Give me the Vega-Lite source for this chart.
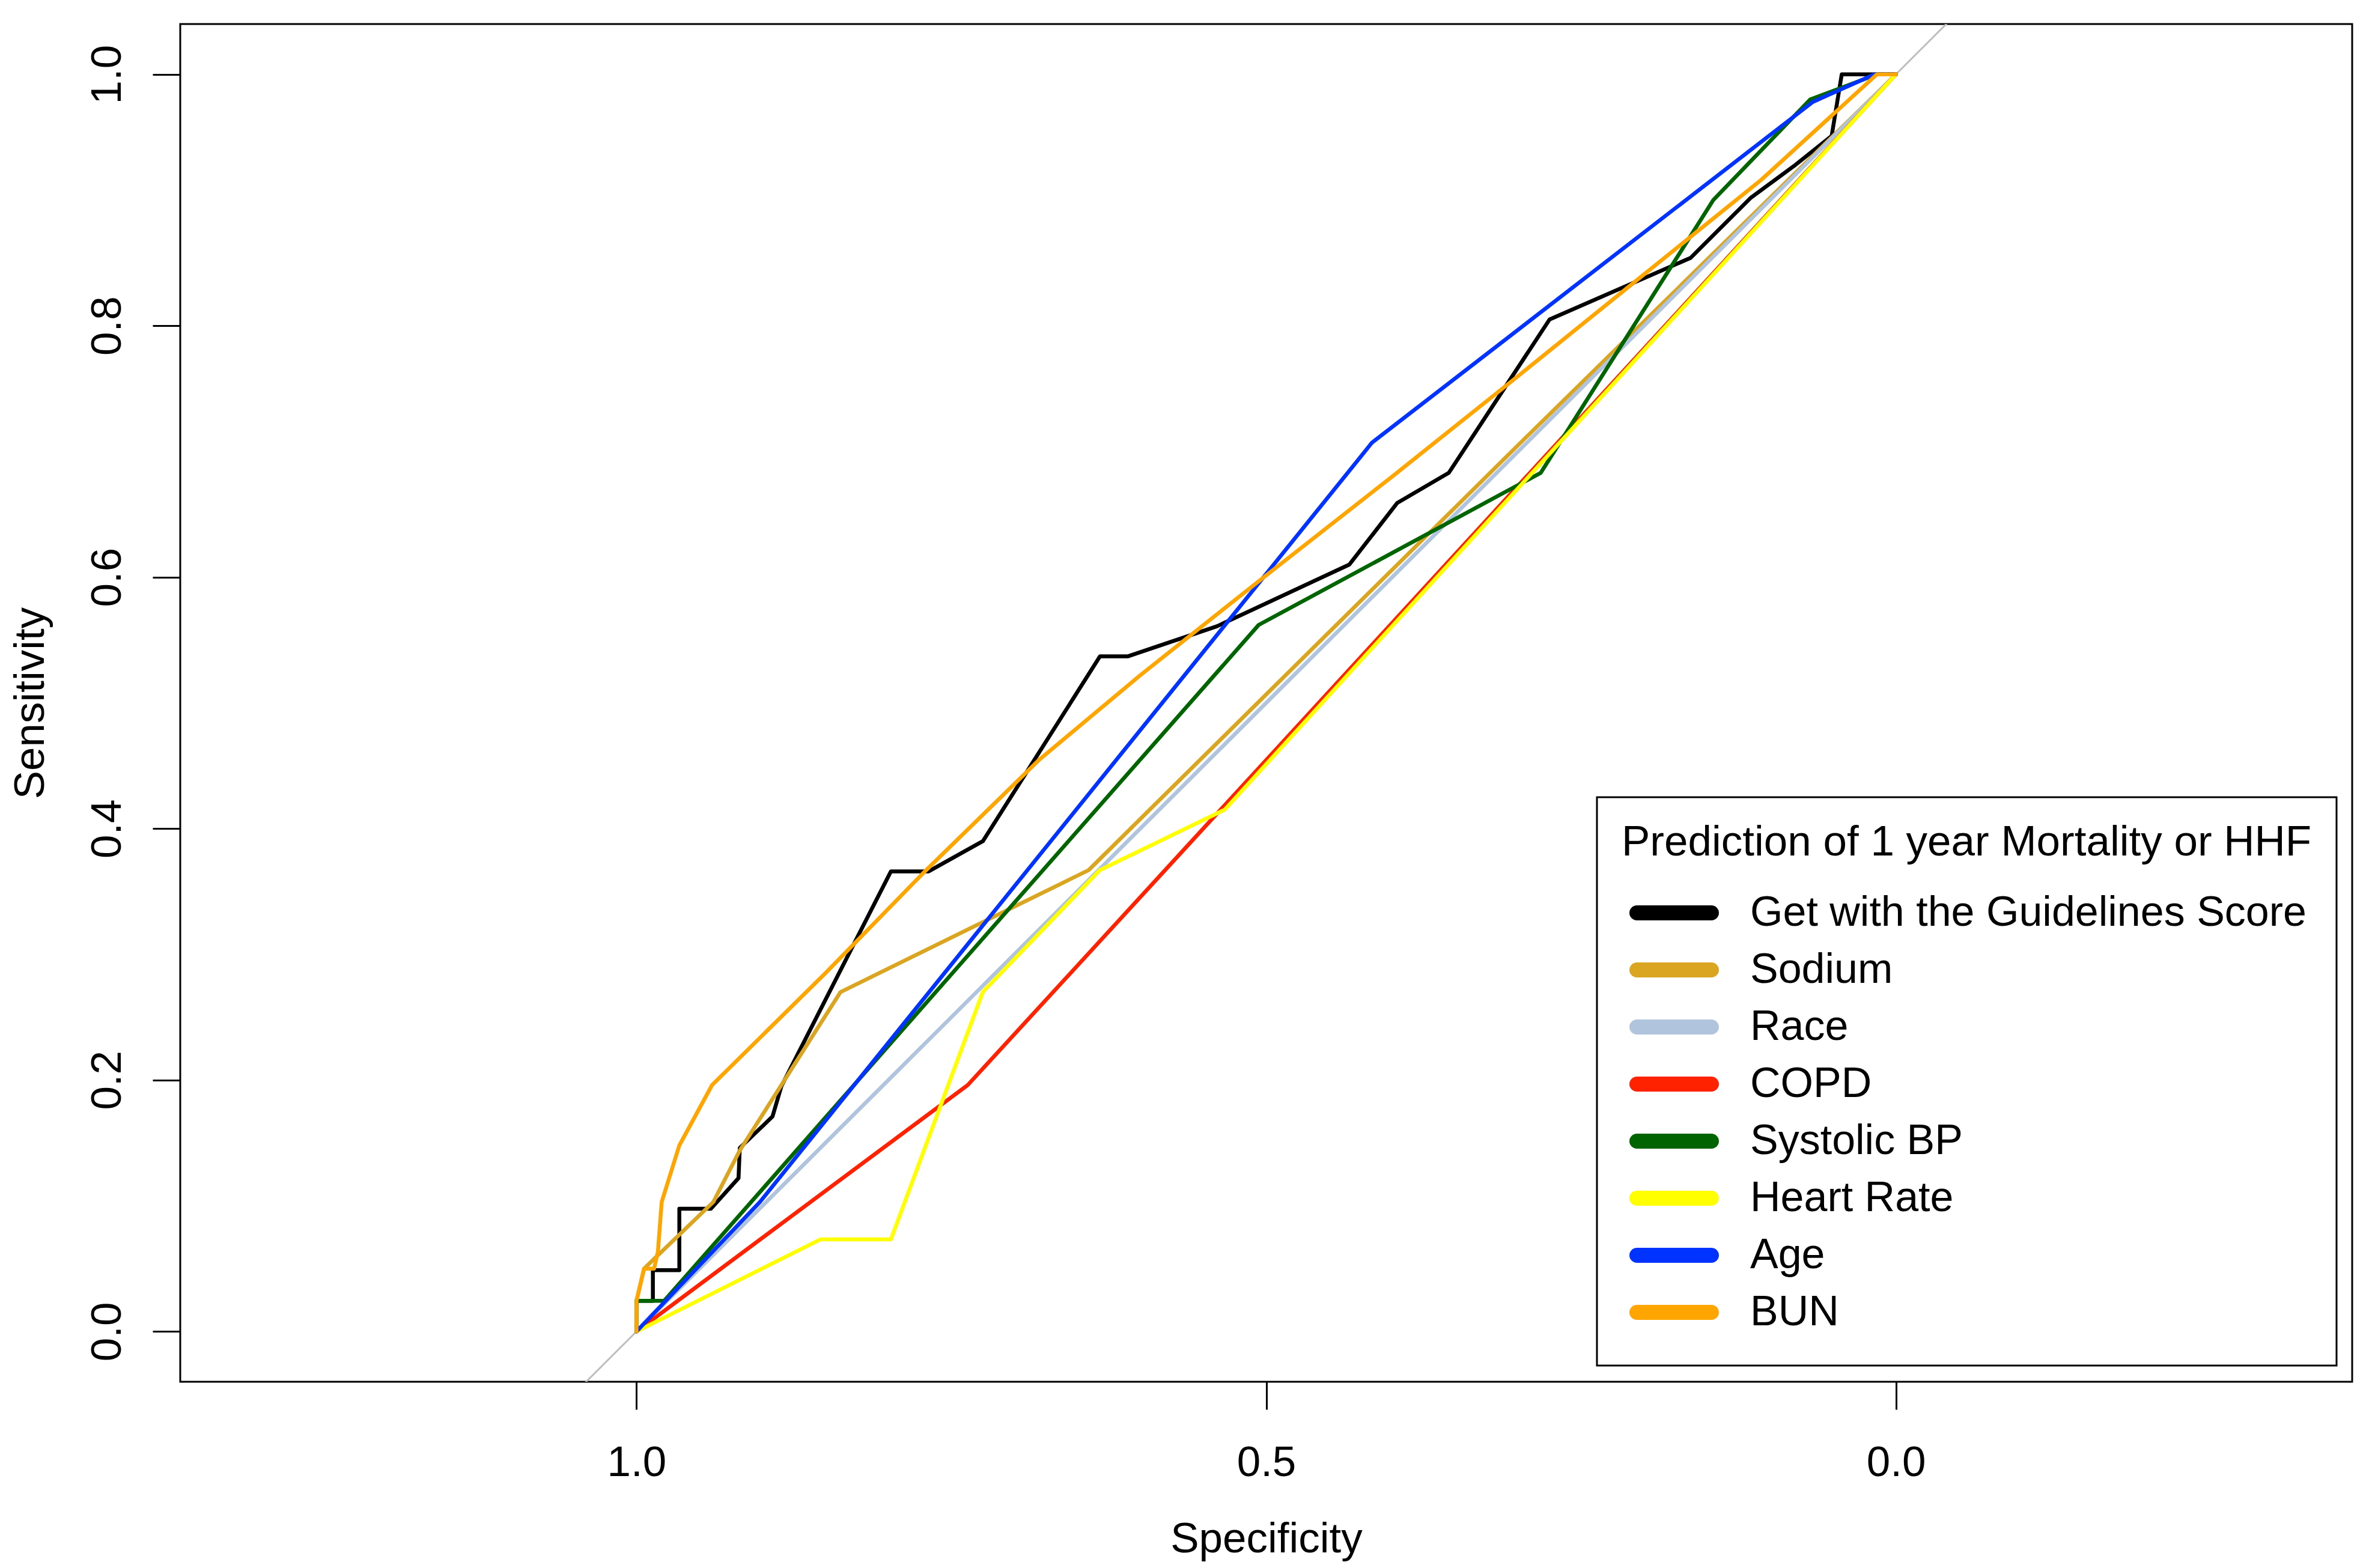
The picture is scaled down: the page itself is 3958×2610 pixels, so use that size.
{
  "$schema": "https://vega.github.io/schema/vega-lite/v6.json",
  "width": 3615,
  "height": 2260,
  "autosize": {"type": "none"},
  "padding": {"left": 300, "top": 40, "right": 43, "bottom": 310},
  "background": "white",
  "config": {
    "font": "Liberation Sans",
    "view": {"stroke": "black", "strokeWidth": 3},
    "axis": {"grid": false, "domain": false, "tickColor": "black", "tickWidth": 3, "tickSize": 46, "labelColor": "black", "labelFontSize": 71, "titleColor": "black", "titleFontSize": 71, "titleFontWeight": "normal", "labelFlush": false, "labelOverlap": false}
  },
  "datasets": {
    "diag": [
      {"specificity": 1.1, "sensitivity": -0.1},
      {"specificity": -0.1, "sensitivity": 1.1}
    ],
    "roc": [
      {"predictor": "Get with the Guidelines Score", "i": 1, "specificity": 1.0, "sensitivity": 0.0},
      {"predictor": "Get with the Guidelines Score", "i": 2, "specificity": 1.0, "sensitivity": 0.0244},
      {"predictor": "Get with the Guidelines Score", "i": 3, "specificity": 0.987, "sensitivity": 0.0244},
      {"predictor": "Get with the Guidelines Score", "i": 4, "specificity": 0.987, "sensitivity": 0.0488},
      {"predictor": "Get with the Guidelines Score", "i": 5, "specificity": 0.966, "sensitivity": 0.0488},
      {"predictor": "Get with the Guidelines Score", "i": 6, "specificity": 0.966, "sensitivity": 0.0976},
      {"predictor": "Get with the Guidelines Score", "i": 7, "specificity": 0.941, "sensitivity": 0.0976},
      {"predictor": "Get with the Guidelines Score", "i": 8, "specificity": 0.919, "sensitivity": 0.122},
      {"predictor": "Get with the Guidelines Score", "i": 9, "specificity": 0.918, "sensitivity": 0.146},
      {"predictor": "Get with the Guidelines Score", "i": 10, "specificity": 0.892, "sensitivity": 0.171},
      {"predictor": "Get with the Guidelines Score", "i": 11, "specificity": 0.885, "sensitivity": 0.195},
      {"predictor": "Get with the Guidelines Score", "i": 12, "specificity": 0.798, "sensitivity": 0.366},
      {"predictor": "Get with the Guidelines Score", "i": 13, "specificity": 0.768, "sensitivity": 0.366},
      {"predictor": "Get with the Guidelines Score", "i": 14, "specificity": 0.725, "sensitivity": 0.390},
      {"predictor": "Get with the Guidelines Score", "i": 15, "specificity": 0.632, "sensitivity": 0.537},
      {"predictor": "Get with the Guidelines Score", "i": 16, "specificity": 0.610, "sensitivity": 0.537},
      {"predictor": "Get with the Guidelines Score", "i": 17, "specificity": 0.539, "sensitivity": 0.561},
      {"predictor": "Get with the Guidelines Score", "i": 18, "specificity": 0.434, "sensitivity": 0.610},
      {"predictor": "Get with the Guidelines Score", "i": 19, "specificity": 0.396, "sensitivity": 0.659},
      {"predictor": "Get with the Guidelines Score", "i": 20, "specificity": 0.355, "sensitivity": 0.683},
      {"predictor": "Get with the Guidelines Score", "i": 21, "specificity": 0.275, "sensitivity": 0.805},
      {"predictor": "Get with the Guidelines Score", "i": 22, "specificity": 0.163, "sensitivity": 0.854},
      {"predictor": "Get with the Guidelines Score", "i": 23, "specificity": 0.115, "sensitivity": 0.902},
      {"predictor": "Get with the Guidelines Score", "i": 24, "specificity": 0.081, "sensitivity": 0.927},
      {"predictor": "Get with the Guidelines Score", "i": 25, "specificity": 0.051, "sensitivity": 0.951},
      {"predictor": "Get with the Guidelines Score", "i": 26, "specificity": 0.043, "sensitivity": 1.0},
      {"predictor": "Get with the Guidelines Score", "i": 27, "specificity": 0.0, "sensitivity": 1.0},

      {"predictor": "Sodium", "i": 1, "specificity": 1.0, "sensitivity": 0.0},
      {"predictor": "Sodium", "i": 2, "specificity": 1.0, "sensitivity": 0.0244},
      {"predictor": "Sodium", "i": 3, "specificity": 0.994, "sensitivity": 0.05},
      {"predictor": "Sodium", "i": 4, "specificity": 0.939, "sensitivity": 0.103},
      {"predictor": "Sodium", "i": 5, "specificity": 0.918, "sensitivity": 0.144},
      {"predictor": "Sodium", "i": 6, "specificity": 0.838, "sensitivity": 0.270},
      {"predictor": "Sodium", "i": 7, "specificity": 0.641, "sensitivity": 0.367},
      {"predictor": "Sodium", "i": 8, "specificity": 0.30, "sensitivity": 0.705},
      {"predictor": "Sodium", "i": 9, "specificity": 0.0, "sensitivity": 1.0},

      {"predictor": "Race", "i": 1, "specificity": 1.0, "sensitivity": 0.0},
      {"predictor": "Race", "i": 2, "specificity": 0.70, "sensitivity": 0.30},
      {"predictor": "Race", "i": 3, "specificity": 0.0, "sensitivity": 1.0},

      {"predictor": "COPD", "i": 1, "specificity": 1.0, "sensitivity": 0.0},
      {"predictor": "COPD", "i": 2, "specificity": 0.737, "sensitivity": 0.196},
      {"predictor": "COPD", "i": 3, "specificity": 0.0, "sensitivity": 1.0},

      {"predictor": "Systolic BP", "i": 1, "specificity": 1.0, "sensitivity": 0.0},
      {"predictor": "Systolic BP", "i": 2, "specificity": 1.0, "sensitivity": 0.0244},
      {"predictor": "Systolic BP", "i": 3, "specificity": 0.978, "sensitivity": 0.0244},
      {"predictor": "Systolic BP", "i": 4, "specificity": 0.506, "sensitivity": 0.562},
      {"predictor": "Systolic BP", "i": 5, "specificity": 0.282, "sensitivity": 0.683},
      {"predictor": "Systolic BP", "i": 6, "specificity": 0.145, "sensitivity": 0.900},
      {"predictor": "Systolic BP", "i": 7, "specificity": 0.068, "sensitivity": 0.980},
      {"predictor": "Systolic BP", "i": 8, "specificity": 0.015, "sensitivity": 1.0},
      {"predictor": "Systolic BP", "i": 9, "specificity": 0.0, "sensitivity": 1.0},

      {"predictor": "Heart Rate", "i": 1, "specificity": 1.0, "sensitivity": 0.0},
      {"predictor": "Heart Rate", "i": 2, "specificity": 0.854, "sensitivity": 0.0732},
      {"predictor": "Heart Rate", "i": 3, "specificity": 0.798, "sensitivity": 0.0732},
      {"predictor": "Heart Rate", "i": 4, "specificity": 0.725, "sensitivity": 0.270},
      {"predictor": "Heart Rate", "i": 5, "specificity": 0.632, "sensitivity": 0.367},
      {"predictor": "Heart Rate", "i": 6, "specificity": 0.533, "sensitivity": 0.415},
      {"predictor": "Heart Rate", "i": 7, "specificity": 0.0, "sensitivity": 1.0},

      {"predictor": "Age", "i": 1, "specificity": 1.0, "sensitivity": 0.0},
      {"predictor": "Age", "i": 2, "specificity": 0.902, "sensitivity": 0.103},
      {"predictor": "Age", "i": 3, "specificity": 0.416, "sensitivity": 0.707},
      {"predictor": "Age", "i": 4, "specificity": 0.066, "sensitivity": 0.978},
      {"predictor": "Age", "i": 5, "specificity": 0.017, "sensitivity": 1.0},
      {"predictor": "Age", "i": 6, "specificity": 0.0, "sensitivity": 1.0},

      {"predictor": "BUN", "i": 1, "specificity": 1.0, "sensitivity": 0.0},
      {"predictor": "BUN", "i": 2, "specificity": 1.0, "sensitivity": 0.0244},
      {"predictor": "BUN", "i": 3, "specificity": 0.994, "sensitivity": 0.05},
      {"predictor": "BUN", "i": 4, "specificity": 0.986, "sensitivity": 0.05},
      {"predictor": "BUN", "i": 5, "specificity": 0.983, "sensitivity": 0.0635},
      {"predictor": "BUN", "i": 6, "specificity": 0.980, "sensitivity": 0.103},
      {"predictor": "BUN", "i": 7, "specificity": 0.966, "sensitivity": 0.148},
      {"predictor": "BUN", "i": 8, "specificity": 0.940, "sensitivity": 0.196},
      {"predictor": "BUN", "i": 9, "specificity": 0.85, "sensitivity": 0.285},
      {"predictor": "BUN", "i": 10, "specificity": 0.77, "sensitivity": 0.367},
      {"predictor": "BUN", "i": 11, "specificity": 0.68, "sensitivity": 0.455},
      {"predictor": "BUN", "i": 12, "specificity": 0.60, "sensitivity": 0.522},
      {"predictor": "BUN", "i": 13, "specificity": 0.512, "sensitivity": 0.592},
      {"predictor": "BUN", "i": 14, "specificity": 0.40, "sensitivity": 0.68},
      {"predictor": "BUN", "i": 15, "specificity": 0.30, "sensitivity": 0.76},
      {"predictor": "BUN", "i": 16, "specificity": 0.206, "sensitivity": 0.836},
      {"predictor": "BUN", "i": 17, "specificity": 0.107, "sensitivity": 0.916},
      {"predictor": "BUN", "i": 18, "specificity": 0.015, "sensitivity": 1.0},
      {"predictor": "BUN", "i": 19, "specificity": 0.0, "sensitivity": 1.0}
    ]
  },
  "encoding": {
    "x": {
      "field": "specificity", "type": "quantitative",
      "scale": {"domain": [-0.3623, 1.3623], "reverse": true, "nice": false, "zero": false},
      "axis": {"values": [1, 0.5, 0], "format": ".1f", "title": "Specificity", "labelPadding": 54, "labelBaseline": "top", "titleY": 283, "titleBaseline": "alphabetic"}
    },
    "y": {
      "field": "sensitivity", "type": "quantitative",
      "scale": {"domain": [-0.04, 1.04], "nice": false, "zero": false},
      "axis": {"values": [0, 0.2, 0.4, 0.6, 0.8, 1.0], "format": ".1f", "title": "Sensitivity", "labelAngle": -90, "labelAlign": "center", "labelBaseline": "alphabetic", "labelPadding": 54, "titleAngle": -90, "titleX": -228, "titleBaseline": "alphabetic"}
    }
  },
  "layer": [
    {
      "data": {"name": "diag"},
      "mark": {"type": "line", "color": "#BEBEBE", "strokeWidth": 3, "clip": true}
    },
    {
      "data": {"name": "roc"},
      "mark": {"type": "line", "strokeWidth": 6.5, "strokeCap": "round", "strokeJoin": "round", "clip": true},
      "encoding": {
        "color": {
          "field": "predictor", "type": "nominal",
          "scale": {
            "domain": ["Get with the Guidelines Score", "Sodium", "Race", "COPD", "Systolic BP", "Heart Rate", "Age", "BUN"],
            "range": ["#000000", "#DAA520", "#B0C4DE", "#FF2200", "#006400", "#FFFF00", "#0033FF", "#FFA500"]
          },
          "legend": {
            "orient": "none", "legendX": 2358, "legendY": 1287,
            "title": "Prediction of 1 year Mortality or HHF",
            "titleFontSize": 71, "titleFontWeight": "normal", "titleColor": "black", "titlePadding": 33, "titleLimit": 3000,
            "labelFontSize": 70, "labelColor": "black", "labelOffset": 52, "labelLimit": 3000,
            "symbolType": "stroke", "symbolSize": 15376, "symbolStrokeWidth": 25, "symbolOffset": 13,
            "clipHeight": 95, "rowPadding": 0, "padding": 41,
            "strokeColor": "black", "fillColor": "white",
            "encode": {
              "legend": {"update": {"strokeWidth": {"value": 3}}},
              "symbols": {"update": {"strokeCap": {"value": "round"}}}
            }
          }
        },
        "order": {"field": "i", "type": "quantitative"}
      }
    }
  ]
}
